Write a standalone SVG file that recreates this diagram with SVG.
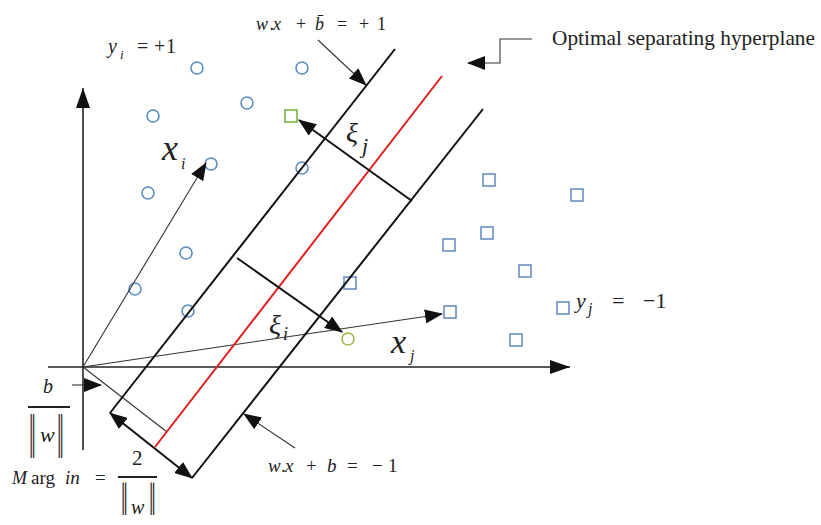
<svg xmlns="http://www.w3.org/2000/svg" width="821" height="525" viewBox="0 0 821 525">
<style>
.i{font-style:italic}
.pt{fill:none;stroke:#5a8dc6;stroke-width:1.6}
.sq{fill:none;stroke:#6a8fc4;stroke-width:1.6}
.thin{stroke:#333;stroke-width:1.1;fill:none}
.bold{stroke:#111;stroke-width:2;fill:none}
.ax{stroke:#222;stroke-width:1.6;fill:none}
</style>
<defs>
<marker id="arr" markerUnits="userSpaceOnUse" markerWidth="18" markerHeight="14" refX="17" refY="7" orient="auto-start-reverse" viewBox="0 0 18 14">
<path d="M0,0 L18,7 L0,14 Z" fill="#111"/>
</marker>
<marker id="arrL" markerUnits="userSpaceOnUse" markerWidth="20" markerHeight="14" refX="20" refY="7" orient="auto" viewBox="0 0 20 14">
<path d="M0,0 L20,7 L0,14 Z" fill="#111"/>
</marker>
</defs>
<rect width="821" height="525" fill="#fff"/>

<g id="class-plus">
<circle class="pt" cx="197" cy="68" r="6"/>
<circle class="pt" cx="302" cy="68" r="6"/>
<circle class="pt" cx="153" cy="116" r="6"/>
<circle class="pt" cx="247" cy="103" r="6"/>
<circle class="pt" cx="211" cy="164" r="6"/>
<circle class="pt" cx="302" cy="168" r="6"/>
<circle class="pt" cx="148" cy="193" r="6"/>
<circle class="pt" cx="186" cy="253" r="6"/>
<circle class="pt" cx="135" cy="289" r="6"/>
<circle class="pt" cx="188" cy="311" r="6"/>
</g>
<g id="class-minus">
<rect class="sq" x="483" y="174" width="12" height="12"/>
<rect class="sq" x="571" y="189" width="12" height="12"/>
<rect class="sq" x="481" y="227" width="12" height="12"/>
<rect class="sq" x="443" y="239" width="12" height="12"/>
<rect class="sq" x="519" y="265" width="12" height="12"/>
<rect class="sq" x="444" y="306" width="12" height="12"/>
<rect class="sq" x="557" y="302" width="12" height="12"/>
<rect class="sq" x="510" y="334" width="12" height="12"/>
<rect class="sq" x="344" y="277" width="12" height="12"/>
</g>
<g id="outliers">
<rect x="285" y="110" width="12" height="12" fill="none" stroke="#7cb342" stroke-width="1.6"/>
<circle cx="348" cy="339" r="6" fill="none" stroke="#a9b545" stroke-width="1.6"/>
</g>

<g id="connectors">
<line class="ax" x1="83" y1="450" x2="83" y2="88" marker-end="url(#arrL)"/>
<line class="ax" x1="48" y1="367" x2="570" y2="367" marker-end="url(#arrL)"/>
<line class="thin" x1="83" y1="367" x2="206" y2="163" marker-end="url(#arr)"/>
<line class="thin" x1="83" y1="367" x2="442" y2="314" marker-end="url(#arr)"/>
<line class="thin" x1="83" y1="367" x2="167" y2="432"/>
<line class="bold" x1="110" y1="413" x2="395" y2="49"/>
<line class="bold" x1="192" y1="478" x2="483" y2="109"/>
<line x1="155" y1="447" x2="442" y2="76" stroke="#e41e1e" stroke-width="2"/>
<line class="bold" x1="110" y1="413" x2="192" y2="478" marker-start="url(#arr)" marker-end="url(#arr)"/>
<line class="bold" x1="412" y1="201" x2="299" y2="120" marker-end="url(#arr)"/>
<line class="bold" x1="237" y1="258" x2="342" y2="332" marker-end="url(#arr)"/>
<line class="thin" x1="318" y1="40" x2="366" y2="85" marker-end="url(#arr)"/>
<line class="thin" x1="295" y1="448" x2="244" y2="414" marker-end="url(#arr)"/>
<polyline class="thin" points="532,39 500,39 500,63 468,63" marker-end="url(#arr)"/>
<line class="thin" x1="72" y1="385" x2="101" y2="385" marker-end="url(#arr)"/>
</g>

<g id="label-plus1">
<text font-family="Liberation Serif" fill="#222" font-size="18" y="30"><tspan class="i" x="256">w</tspan><tspan x="269.5">.</tspan><tspan class="i" x="273">x</tspan><tspan x="296">+</tspan><tspan class="i" x="315">b̄</tspan><tspan x="337">=</tspan><tspan x="359">+</tspan><tspan x="377">1</tspan></text>
</g>
<g id="label-yi">
<text font-family="Liberation Serif" fill="#222" font-size="20" y="53"><tspan class="i" x="108">y</tspan><tspan class="i" x="120" y="59" font-size="13">i</tspan><tspan x="137" y="53">=</tspan><tspan x="154">+</tspan><tspan x="166">1</tspan></text>
</g>
<g id="label-xi">
<text font-family="Liberation Serif" fill="#222" class="i" font-size="36" x="162" y="160">x<tspan font-size="16" x="181" y="169">i</tspan></text>
</g>
<g id="label-xij">
<text font-family="Liberation Serif" fill="#222" class="i" font-size="28" x="346" y="142">ξ<tspan font-size="22" x="362" y="153">j</tspan></text>
</g>
<g id="label-xii">
<text font-family="Liberation Serif" fill="#222" class="i" font-size="28" x="269" y="334">ξ<tspan font-size="18" x="283" y="340">i</tspan></text>
</g>
<g id="label-xj">
<text font-family="Liberation Serif" fill="#222" class="i" font-size="34" x="391" y="353">x<tspan font-size="16" x="410" y="361">j</tspan></text>
</g>
<g id="label-yj">
<text font-family="Liberation Serif" fill="#222" font-size="22" y="308"><tspan class="i" x="576">y</tspan><tspan class="i" x="588" y="314" font-size="16">j</tspan><tspan x="612" y="308">=</tspan><tspan x="643">−1</tspan></text>
</g>
<g id="label-optimal">
<text font-family="Liberation Serif" fill="#222" font-size="21" x="552" y="45" textLength="263" lengthAdjust="spacingAndGlyphs">Optimal separating hyperplane</text>
</g>
<g id="label-minus1">
<text font-family="Liberation Serif" fill="#222" font-size="19" y="472"><tspan class="i" x="268">w</tspan><tspan x="281">.</tspan><tspan class="i" x="285">x</tspan><tspan x="306">+</tspan><tspan class="i" x="327">b</tspan><tspan x="347">=</tspan><tspan x="372">−</tspan><tspan x="388">1</tspan></text>
</g>
<g id="label-bw">
<text font-family="Liberation Serif" fill="#222" class="i" font-size="20" x="43" y="393">b</text>
<line x1="28" y1="407" x2="70" y2="407" stroke="#222" stroke-width="2"/>
<text font-family="Liberation Serif" fill="#222" font-size="24" transform="translate(29,458) scale(1,2.6)">‖</text>
<text font-family="Liberation Serif" fill="#222" class="i" font-size="22" x="40" y="442">w</text>
<text font-family="Liberation Serif" fill="#222" font-size="24" transform="translate(57,458) scale(1,2.6)">‖</text>
</g>
<g id="label-margin">
<text font-family="Liberation Serif" fill="#222" font-size="19" y="484"><tspan class="i" x="12" font-size="18">M</tspan><tspan x="31">arg</tspan><tspan class="i" x="65">in</tspan><tspan x="95">=</tspan></text>
<text font-family="Liberation Serif" fill="#222" font-size="21" x="132" y="465">2</text>
<line x1="118" y1="477" x2="157" y2="477" stroke="#222" stroke-width="2"/>
<text font-family="Liberation Serif" fill="#222" font-size="24" transform="translate(121,515) scale(1,1.9)">‖</text>
<text font-family="Liberation Serif" fill="#222" class="i" font-size="20" x="131" y="514">w</text>
<text font-family="Liberation Serif" fill="#222" font-size="24" transform="translate(149,515) scale(1,1.9)">‖</text>
</g>
</svg>
